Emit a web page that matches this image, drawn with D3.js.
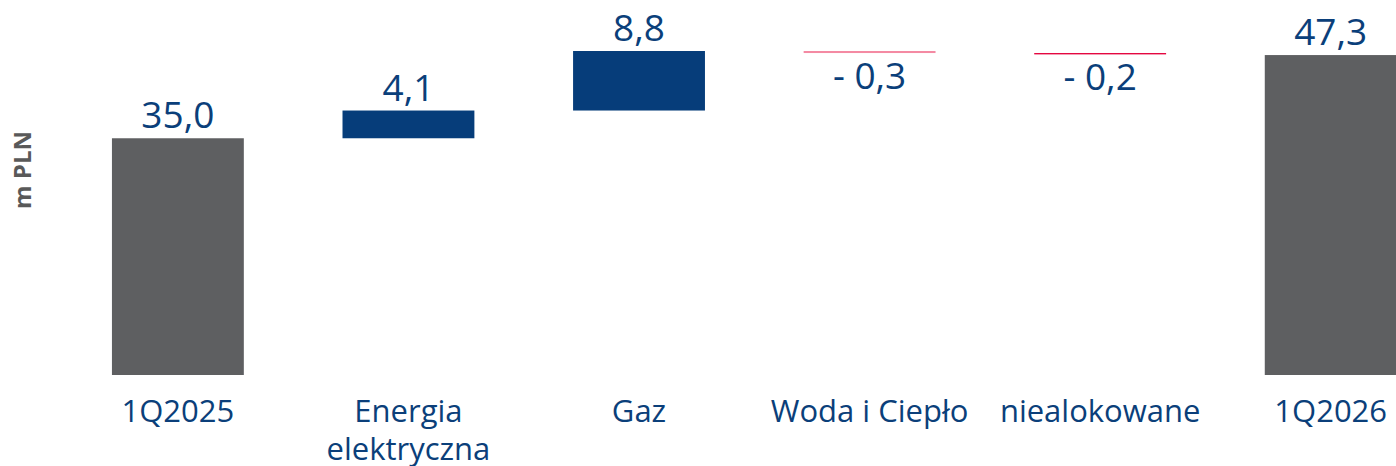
<!DOCTYPE html>
<html>
<head>
<meta charset="utf-8">
<script src="https://cdn.jsdelivr.net/npm/d3@7"></script>
<style>
  body { margin: 0; background: #fff; }
  text { font-family: "Open Sans", sans-serif; }
</style>
</head>
<body>
<svg id="chart"></svg>
<script>
// waterfall data
const categories = ['1Q2025', 'Energia elektryczna', 'Gaz', 'Woda i Ciepło', 'niealokowane', '1Q2026'];
const labelLines = [['1Q2025'], ['Energia', 'elektryczna'], ['Gaz'], ['Woda i Ciepło'], ['niealokowane'], ['1Q2026']];
const values = [35.0, 4.1, 8.8, -0.3, -0.2, 47.3];
const isTotal = [true, false, false, false, false, true];
const barColors = ['#5e5f61', '#063d7a', '#063d7a', '#f48aa3', '#e4003b', '#5e5f61'];

const width = 1396, height = 466;
const textBlue = '#0b3f7a';

const svg = d3.select('#chart').attr('width', width).attr('height', height);

const x = d3.scaleBand()
  .domain(categories)
  .range([62.6, 1446])
  .paddingInner(0.428)
  .paddingOuter(0.214);

const y = d3.scaleLinear().domain([0, 50]).range([375, 36.8]);

// running start/end for each step
let running = 0;
const bars = categories.map((c, i) => {
  let start, end;
  if (isTotal[i]) {
    start = 0; end = values[i];
  } else {
    start = running; end = running + values[i];
  }
  running = end;
  return { cat: c, value: values[i], start, end, color: barColors[i], lines: labelLines[i] };
});

const fmt = (v) => {
  const s = d3.format('.1f')(Math.abs(v)).replace('.', ',');
  return v < 0 ? '- ' + s : s;
};

svg.append('g')
  .selectAll('rect')
  .data(bars)
  .join('rect')
  .attr('x', (d) => x(d.cat))
  .attr('width', x.bandwidth())
  .attr('y', (d) => y(Math.max(d.start, d.end)))
  .attr('height', (d) => Math.abs(y(d.start) - y(d.end)))
  .attr('fill', (d) => d.color);

// value labels
svg.append('g')
  .selectAll('text')
  .data(bars)
  .join('text')
  .attr('x', (d) => x(d.cat) + x.bandwidth() / 2)
  .attr('y', (d) => d.value >= 0 ? y(Math.max(d.start, d.end)) - 10 : y(Math.min(d.start, d.end)) + 36)
  .attr('text-anchor', 'middle')
  .attr('font-size', 37)
  .attr('fill', textBlue)
  .text((d) => fmt(d.value));

// category labels
const catLabels = svg.append('g')
  .selectAll('text')
  .data(bars)
  .join('text')
  .attr('x', (d) => x(d.cat) + x.bandwidth() / 2)
  .attr('y', 422)
  .attr('text-anchor', 'middle')
  .attr('font-size', 31)
  .attr('fill', textBlue);

catLabels.selectAll('tspan')
  .data((d) => d.lines.map((l) => ({ l, cx: x(d.cat) + x.bandwidth() / 2 })))
  .join('tspan')
  .attr('x', (d) => d.cx)
  .attr('dy', (d, i) => i === 0 ? 0 : 38)
  .text((d) => d.l);

// y axis title
svg.append('text')
  .attr('transform', 'translate(31,170) rotate(-90)')
  .attr('text-anchor', 'middle')
  .attr('font-size', 24)
  .attr('font-weight', 'bold')
  .attr('fill', '#595959')
  .text('m PLN');
</script>
</body>
</html>
